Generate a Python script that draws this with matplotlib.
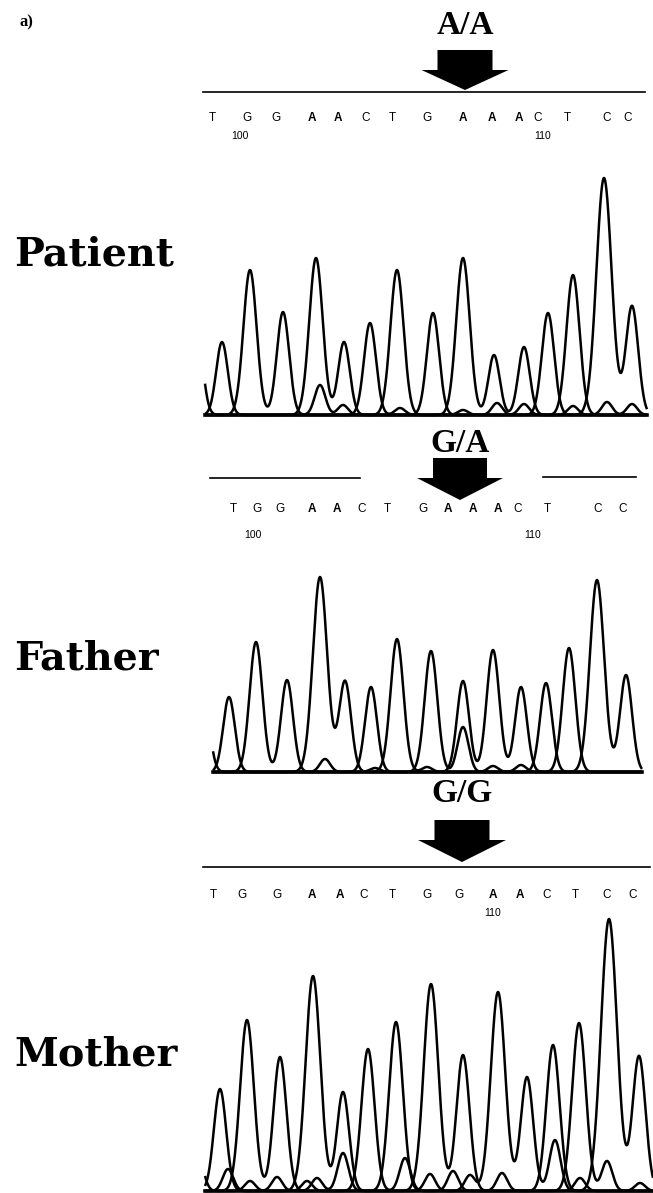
import numpy as np
import matplotlib
matplotlib.use("Agg")
import matplotlib.pyplot as plt
from matplotlib.patches import Polygon

# Called bases (positions 99-113) for each family member
patient_seq = list("TGGAACTGAAACTCC")
father_seq = list("TGGAACTGAAACTCC")
mother_seq = list("TGGAACTGGAACTCC")
genotypes = ["A/A", "G/A", "G/G"]
members = ["Patient", "Father", "Mother"]

# Main peak of every called base: scan position and signal height
patient_peak_x = [222, 250, 283, 316, 344, 370, 397, 433, 463, 494, 524, 548, 573, 604, 632]
patient_peak_h = [73, 145, 103, 157, 73, 92, 145, 102, 157, 60, 68, 102, 140, 237, 109]
father_peak_x = [229, 256, 287, 320, 345, 371, 397, 431, 463, 493, 521, 546, 569, 597, 626]
father_peak_h = [75, 130, 92, 195, 91, 85, 133, 121, 91, 122, 85, 89, 124, 192, 97]
mother_peak_x = [220, 247, 280, 313, 343, 368, 396, 431, 463, 498, 527, 553, 579, 609, 639]
mother_peak_h = [102, 171, 134, 215, 99, 142, 169, 207, 136, 199, 114, 146, 168, 272, 135]

# Minor peaks (background signal, second allele of the father)
patient_minor_base = ["C", "G", "G", "C", "C", "G", "G", "A", "A", "A"]
patient_minor_x = [196, 320, 343, 400, 463, 497, 524, 573, 607, 632]
patient_minor_h = [95, 30, 10, 7, 5, 12, 11, 9, 13, 11]
father_minor_base = ["C", "G", "G", "T", "G", "C", "T"]
father_minor_x = [204, 325, 375, 427, 463, 493, 521]
father_minor_h = [70, 13, 4, 5, 45, 6, 7]
mother_minor_base = ["C", "A", "C", "T", "C", "G", "G", "C", "A", "C", "A", "G", "A", "G", "T", "G"]
mother_minor_x = [198, 228, 250, 277, 307, 317, 343, 405, 430, 453, 470, 502, 555, 580, 607, 640]
mother_minor_h = [35, 22, 10, 14, 10, 13, 38, 33, 17, 20, 16, 18, 51, 13, 30, 8]

# Position of the base calls printed above each trace, and numbering
patient_call_x = [212, 247, 276, 312, 338, 366, 392, 427, 463, 492, 519, 538, 567, 607, 628]
father_call_x = [233, 257, 280, 312, 337, 362, 387, 423, 448, 473, 498, 518, 547, 598, 623]
mother_call_x = [213, 242, 277, 312, 340, 364, 392, 427, 459, 493, 520, 547, 575, 607, 633]
patient_numbers = [("100", 240), ("110", 543)]
father_numbers = [("100", 253), ("110", 533)]
mother_numbers = [("110", 493)]

W, H = 653, 1193


def peak(x, px, ph):
    # taller peaks come out a bit wider on the trace
    s = 5.0 + 0.011 * ph
    return ph * np.exp(-(x - px) ** 2 / (2 * s ** 2))


def channel_traces(x, seq, peak_x, peak_h, minor_base, minor_x, minor_h):
    """Sum of peaks for every dye channel (A, C, G, T)"""
    traces = {b: np.zeros_like(x) for b in "ACGT"}
    for b, px, ph in zip(seq, peak_x, peak_h):
        traces[b] += peak(x, px, ph)
    for b, px, ph in zip(minor_base, minor_x, minor_h):
        traces[b] += peak(x, px, ph)
    return traces


def draw_trace(fig, baseline, top, x0, x1, data):
    """Chromatogram axes; x in scan units, y in signal units above baseline"""
    ax = fig.add_axes([0, (H - baseline) / H, 1, (baseline - top) / H])
    ax.set_xlim(0, W)
    ax.set_ylim(0, baseline - top)
    ax.axis("off")
    x = np.linspace(x0, x1, 3000)
    for b, y in channel_traces(x, *data).items():
        ax.plot(x, y, color="black", lw=1.8, clip_on=False, solid_capstyle="butt")
    ax.plot([x0, x1], [0, 0], color="black", lw=2.6, clip_on=False)
    return ax


def draw_header(cv, label, xc, top, shoulder, tip, box_half, head_half, text_y):
    """Genotype label with the big black arrow"""
    cv.text(xc, text_y, label, ha="center", va="center", fontsize=24,
            fontweight="bold", family="Liberation Serif")
    pts = [(xc - box_half, top), (xc + box_half, top), (xc + box_half, shoulder),
           (xc + head_half, shoulder), (xc, tip), (xc - head_half, shoulder),
           (xc - box_half, shoulder)]
    cv.add_patch(Polygon(pts, closed=True, color="black", lw=0))


def draw_calls(cv, seq, call_x, y, numbers, num_y):
    for b, cx in zip(seq, call_x):
        # the A calls print heavier in the original trace
        cv.text(cx, y, b, ha="center", va="center", fontsize=8.5,
                fontweight="bold" if b == "A" else "normal",
                family="Liberation Sans")
    for txt, nx in numbers:
        cv.text(nx, num_y, txt, ha="center", va="center", fontsize=7.5,
                family="Liberation Sans")


fig = plt.figure(figsize=(W / 100, H / 100), dpi=100)
cv = fig.add_axes([0, 0, 1, 1])
cv.set_xlim(0, W)
cv.set_ylim(H, 0)
cv.axis("off")

cv.text(20, 22, "a)", ha="left", va="center", fontsize=12, fontweight="bold",
        family="Liberation Serif")

# Member names
for name, yb in zip(members, [265, 670, 1065]):
    cv.text(14, yb, name, ha="left", va="baseline", fontsize=28.5,
            fontweight="bold", family="DejaVu Serif")

# Patient header
draw_header(cv, genotypes[0], 465, 50, 70, 90, 27.5, 43.5, 25)
cv.plot([203, 645], [92, 92], color="black", lw=1.2)
draw_calls(cv, patient_seq, patient_call_x, 118, patient_numbers, 136)

# Father header
draw_header(cv, genotypes[1], 460, 458, 478, 500, 27, 43, 444)
cv.plot([210, 360], [478, 478], color="black", lw=1.2)
cv.plot([543, 636], [477, 477], color="black", lw=1.2)
draw_calls(cv, father_seq, father_call_x, 509, father_numbers, 535)

# Mother header
draw_header(cv, genotypes[2], 462, 820, 840, 862, 27.5, 44, 794)
cv.plot([203, 650], [867, 867], color="black", lw=1.2)
draw_calls(cv, mother_seq, mother_call_x, 895, mother_numbers, 913)

# Chromatograms
draw_trace(fig, 415, 150, 205, 647,
           (patient_seq, patient_peak_x, patient_peak_h,
            patient_minor_base, patient_minor_x, patient_minor_h))
draw_trace(fig, 772, 560, 213, 642,
           (father_seq, father_peak_x, father_peak_h,
            father_minor_base, father_minor_x, father_minor_h))
draw_trace(fig, 1191, 900, 205, 653,
           (mother_seq, mother_peak_x, mother_peak_h,
            mother_minor_base, mother_minor_x, mother_minor_h))

fig.savefig("out.png", dpi=100)
